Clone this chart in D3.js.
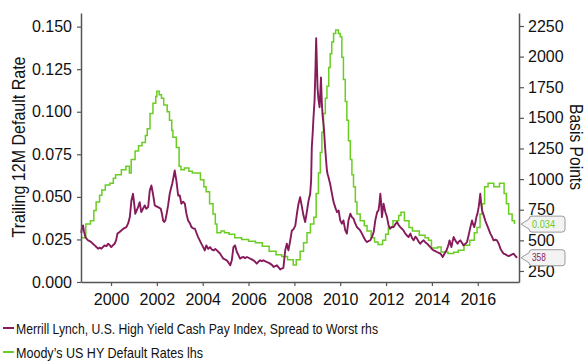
<!DOCTYPE html>
<html>
<head>
<meta charset="utf-8">
<script src="https://cdn.jsdelivr.net/npm/d3@7"></script>
<style>
  html, body { margin: 0; padding: 0; background: #fff; }
  svg { display: block; }
</style>
</head>
<body>
<svg id="chart" width="586" height="362"></svg>
<script>
// Moody's US high-yield trailing 12M default rate (left axis), monthly steps
const defaultYears = [
  1998.70, 1998.90, 1999.10, 1999.25, 1999.35, 1999.50, 1999.60, 1999.75, 1999.95, 2000.10,
  2000.20, 2000.45, 2000.65, 2000.80, 2000.88, 2001.05, 2001.20, 2001.35, 2001.50, 2001.58,
  2001.70, 2001.83, 2001.95, 2002.00, 2002.10, 2002.20, 2002.30, 2002.45, 2002.55, 2002.65,
  2002.70, 2002.85, 2002.97, 2003.05, 2003.20, 2003.40, 2003.55, 2003.70, 2003.90, 2004.05,
  2004.15, 2004.30, 2004.45, 2004.55, 2004.62, 2004.80, 2004.95, 2005.15, 2005.40, 2005.70,
  2006.00, 2006.30, 2006.60, 2006.90, 2007.20, 2007.45, 2007.70, 2007.95, 2008.08, 2008.25,
  2008.40, 2008.55, 2008.70, 2008.85, 2008.95, 2009.05, 2009.13, 2009.20, 2009.27, 2009.35,
  2009.42, 2009.50, 2009.56, 2009.63, 2009.71, 2009.80, 2009.92, 2010.00, 2010.07, 2010.14,
  2010.22, 2010.29, 2010.36, 2010.44, 2010.51, 2010.58, 2010.66, 2010.73, 2010.87, 2011.05,
  2011.17, 2011.35, 2011.50, 2011.65, 2011.85, 2011.98, 2012.10, 2012.30, 2012.55, 2012.65,
  2012.80, 2013.00, 2013.15, 2013.45, 2013.70, 2013.85, 2013.98, 2014.25, 2014.40, 2014.70,
  2014.95, 2015.15, 2015.40, 2015.65, 2015.85, 2015.97, 2016.10, 2016.19, 2016.30, 2016.45,
  2016.70, 2016.95, 2017.08, 2017.15, 2017.25, 2017.35, 2017.50, 2017.60
];
const defaultRate = [
  0.026, 0.034, 0.036, 0.042, 0.047, 0.051, 0.054, 0.057, 0.058, 0.061,
  0.063, 0.066, 0.068, 0.064, 0.072, 0.077, 0.080, 0.082, 0.086, 0.090,
  0.099, 0.105, 0.109, 0.112, 0.110, 0.108, 0.104, 0.100, 0.095, 0.089,
  0.085, 0.079, 0.068, 0.066, 0.067, 0.065, 0.064, 0.064, 0.060, 0.056,
  0.053, 0.046, 0.040, 0.034, 0.029, 0.030, 0.029, 0.028, 0.026, 0.025,
  0.024, 0.023, 0.021, 0.018, 0.016, 0.015, 0.013, 0.010, 0.013, 0.018,
  0.023, 0.029, 0.034, 0.038, 0.052, 0.064, 0.076, 0.088, 0.099, 0.108,
  0.115, 0.126, 0.134, 0.141, 0.146, 0.148, 0.146, 0.144, 0.132, 0.119,
  0.106, 0.095, 0.083, 0.072, 0.063, 0.056, 0.047, 0.040, 0.036, 0.033,
  0.030, 0.026, 0.0235, 0.022, 0.0245, 0.028, 0.032, 0.036, 0.039, 0.041,
  0.036, 0.032, 0.030, 0.0275, 0.026, 0.0245, 0.020, 0.0206, 0.0176, 0.0167,
  0.0175, 0.0186, 0.0216, 0.0245, 0.029, 0.032, 0.040, 0.046, 0.056, 0.058,
  0.056, 0.058, 0.058, 0.052, 0.046, 0.040, 0.036, 0.034
];

// Merrill Lynch US HY Cash Pay Index spread to worst, basis points (right axis)
const spreadYears = [
  1998.70, 1998.73, 1998.78, 1998.82, 1998.88, 1998.94, 1999.00, 1999.07, 1999.14, 1999.22,
  1999.29, 1999.36, 1999.43, 1999.50, 1999.58, 1999.65, 1999.72, 1999.80, 1999.87, 1999.94,
  2000.01, 2000.08, 2000.16, 2000.22, 2000.28, 2000.36, 2000.45, 2000.56, 2000.67, 2000.75,
  2000.82, 2000.89, 2000.96, 2001.01, 2001.06, 2001.12, 2001.18, 2001.25, 2001.32, 2001.40,
  2001.47, 2001.54, 2001.62, 2001.69, 2001.76, 2001.83, 2001.91, 2001.98, 2002.05, 2002.11,
  2002.17, 2002.22, 2002.27, 2002.32, 2002.37, 2002.43, 2002.49, 2002.56, 2002.63, 2002.67,
  2002.71, 2002.78, 2002.85, 2002.93, 2003.00, 2003.07, 2003.15, 2003.22, 2003.29, 2003.36,
  2003.44, 2003.51, 2003.58, 2003.66, 2003.73, 2003.80, 2003.87, 2003.94, 2004.02, 2004.09,
  2004.16, 2004.24, 2004.32, 2004.40, 2004.47, 2004.55, 2004.62, 2004.69, 2004.76, 2004.83,
  2004.90, 2004.97, 2005.05, 2005.12, 2005.20, 2005.27, 2005.34, 2005.41, 2005.49, 2005.56,
  2005.63, 2005.70, 2005.78, 2005.85, 2005.93, 2006.00, 2006.07, 2006.14, 2006.21, 2006.29,
  2006.36, 2006.43, 2006.51, 2006.58, 2006.65, 2006.72, 2006.80, 2006.87, 2006.94, 2007.02,
  2007.09, 2007.16, 2007.24, 2007.31, 2007.38, 2007.45, 2007.52, 2007.60, 2007.67, 2007.74,
  2007.82, 2007.89, 2007.96, 2008.04, 2008.11, 2008.18, 2008.25, 2008.33, 2008.40, 2008.47,
  2008.55, 2008.62, 2008.69, 2008.73, 2008.76, 2008.80, 2008.83, 2008.88, 2008.92, 2008.95,
  2008.98, 2009.01, 2009.05, 2009.10, 2009.13, 2009.16, 2009.20, 2009.23, 2009.27, 2009.30,
  2009.34, 2009.38, 2009.42, 2009.45, 2009.49, 2009.52, 2009.56, 2009.60, 2009.64, 2009.67,
  2009.71, 2009.75, 2009.78, 2009.82, 2009.86, 2009.93, 2010.00, 2010.07, 2010.14, 2010.22,
  2010.29, 2010.36, 2010.44, 2010.51, 2010.58, 2010.65, 2010.73, 2010.80, 2010.87, 2010.95,
  2011.02, 2011.10, 2011.17, 2011.24, 2011.31, 2011.39, 2011.46, 2011.53, 2011.61, 2011.67,
  2011.71, 2011.75, 2011.78, 2011.82, 2011.89, 2011.97, 2012.04, 2012.11, 2012.18, 2012.25,
  2012.33, 2012.40, 2012.48, 2012.55, 2012.62, 2012.69, 2012.76, 2012.84, 2012.91, 2012.98,
  2013.06, 2013.13, 2013.20, 2013.28, 2013.35, 2013.42, 2013.49, 2013.57, 2013.64, 2013.71,
  2013.79, 2013.86, 2013.93, 2014.00, 2014.07, 2014.15, 2014.22, 2014.30, 2014.37, 2014.42,
  2014.47, 2014.53, 2014.59, 2014.64, 2014.69, 2014.73, 2014.77, 2014.81, 2014.85, 2014.90,
  2014.95, 2015.02, 2015.07, 2015.12, 2015.18, 2015.24, 2015.31, 2015.38, 2015.45, 2015.53,
  2015.60, 2015.68, 2015.75, 2015.80, 2015.85, 2015.90, 2015.94, 2015.99, 2016.04, 2016.08,
  2016.11, 2016.15, 2016.19, 2016.26, 2016.33, 2016.41, 2016.48, 2016.55, 2016.62, 2016.69,
  2016.77, 2016.84, 2016.92, 2016.99, 2017.06, 2017.13, 2017.21, 2017.28, 2017.35, 2017.42,
  2017.50, 2017.57, 2017.65, 2017.72
];
const spreadBp = [
  560, 600, 622, 575, 527, 512, 500, 494, 486, 470,
  459, 446, 432, 440, 432, 446, 459, 452, 473, 462,
  445, 460, 473, 500, 555, 566, 581, 598, 608, 640,
  690, 826, 880, 800, 717, 745, 771, 812, 730, 760,
  785, 758, 771, 907, 948, 880, 785, 778, 771, 765,
  758, 720, 663, 650, 663, 720, 785, 880, 934, 962,
  1000, 1070, 989, 866, 866, 799, 815, 799, 717, 663,
  640, 608, 598, 595, 560, 527, 500, 473, 445, 418,
  459, 430, 445, 425, 418, 430, 418, 405, 391, 370,
  351, 345, 337, 320, 296, 337, 445, 459, 405, 380,
  351, 360, 364, 355, 364, 358, 351, 345, 337, 325,
  310, 325, 337, 330, 337, 330, 323, 318, 310, 300,
  283, 290, 296, 280, 262, 270, 275, 418, 473, 418,
  500, 581, 590, 620, 717, 799, 852, 771, 700, 649,
  740, 826, 880, 989, 1260, 1380, 1491, 1640, 1900, 2150,
  1950, 1748, 1650, 1586, 1700, 1830, 1613, 1520, 1450, 1380,
  1260, 1160, 1070, 1040, 1015, 990, 962, 920, 880, 850,
  812, 790, 771, 750, 730, 744, 663, 636, 663, 581,
  555, 663, 717, 690, 677, 640, 608, 595, 581, 555,
  527, 500, 486, 495, 500, 530, 568, 663, 730, 744,
  800, 880, 820, 690, 799, 730, 690, 622, 595, 610,
  608, 630, 649, 625, 608, 595, 581, 555, 540, 527,
  555, 520, 500, 530, 514, 490, 473, 490, 500, 485,
  473, 460, 445, 430, 418, 412, 405, 398, 391, 380,
  364, 385, 405, 420, 445, 470, 500, 470, 445, 490,
  527, 500, 485, 473, 490, 500, 480, 459, 470, 486,
  540, 608, 663, 630, 608, 650, 690, 720, 771, 830,
  880, 800, 744, 704, 660, 622, 590, 555, 530, 500,
  505, 500, 470, 432, 410, 391, 385, 378, 372, 378,
  385, 391, 370, 358
];

const xTicks = [2000, 2002, 2004, 2006, 2008, 2010, 2012, 2014, 2016];
const leftTicks = [0.000, 0.025, 0.050, 0.075, 0.100, 0.125, 0.150];
const rightTicks = [250, 500, 750, 1000, 1250, 1500, 1750, 2000, 2250];

const legendLabels = [
  "Merrill Lynch, U.S. High Yield Cash Pay Index, Spread to Worst rhs",
  "Moody\u2019s US HY Default Rates lhs"
];

const COLOR_SPREAD = "#861a5b";
const COLOR_DEFAULT = "#6acd22";
const AXIS_COLOR = "#555";
const TICK_FONT = "'Liberation Sans', Arial, sans-serif";
const LABEL_FONT = "'Liberation Sans', Arial, sans-serif";

const svg = d3.select("#chart");

const plot = { left: 81, right: 519, top: 13, bottom: 282 };

const x = d3.scaleLinear().domain([1998.69, 2017.8]).range([plot.left, plot.right]);
const yL = d3.scaleLinear().domain([0, 0.158]).range([plot.bottom, plot.top]);
const yR = d3.scaleLinear().domain([160, 2356]).range([plot.bottom, plot.top]);

const defaultData = defaultYears.map((t, i) => ({ t, v: defaultRate[i] }));
const spreadData = spreadYears.map((t, i) => ({ t, v: spreadBp[i] }));

// Lines: default rate under, spread on top
svg.append("path")
  .datum(defaultData)
  .attr("fill", "none")
  .attr("stroke", COLOR_DEFAULT)
  .attr("stroke-width", 1.5)
  .attr("d", d3.line().x(d => x(d.t)).y(d => yL(d.v)).curve(d3.curveStepAfter));

svg.append("path")
  .datum(spreadData)
  .attr("fill", "none")
  .attr("stroke", COLOR_SPREAD)
  .attr("stroke-width", 1.9)
  .attr("stroke-linejoin", "round")
  .attr("d", d3.line().x(d => x(d.t)).y(d => yR(d.v)));

// Axes
function styleAxis(g) {
  g.select(".domain").attr("stroke", AXIS_COLOR).attr("stroke-width", 1.5);
  g.selectAll(".tick line").attr("stroke", AXIS_COLOR).attr("stroke-width", 1.2);
  g.selectAll(".tick text")
    .attr("fill", "#111")
    .style("font-family", TICK_FONT)
    .style("font-size", "16px");
}

svg.append("g")
  .attr("transform", `translate(0,${plot.bottom})`)
  .call(d3.axisBottom(x).tickValues(xTicks).tickFormat(d3.format("d"))
    .tickSize(4).tickPadding(8).tickSizeOuter(0))
  .call(styleAxis);

svg.append("g")
  .attr("transform", `translate(${plot.left},0)`)
  .call(d3.axisLeft(yL).tickValues(leftTicks).tickFormat(d3.format(".3f"))
    .tickSize(4).tickPadding(5).tickSizeOuter(0))
  .call(styleAxis);

svg.append("g")
  .attr("transform", `translate(${plot.right},0)`)
  .call(d3.axisRight(yR).tickValues(rightTicks).tickFormat(d3.format("d"))
    .tickSize(5).tickPadding(4).tickSizeOuter(0))
  .call(styleAxis);

// Condensed text: regular face squeezed to a set width
function condensed(sel, width) {
  return sel.attr("textLength", width).attr("lengthAdjust", "spacingAndGlyphs");
}

// Axis titles
svg.append("text")
  .attr("transform", "translate(25,147) rotate(-90)")
  .attr("text-anchor", "middle")
  .style("font-family", LABEL_FONT)
  .style("font-size", "17.5px")
  .attr("fill", "#111")
  .text("Trailing 12M Default Rate")
  .call(condensed, 181);

svg.append("text")
  .attr("transform", "translate(570,147) rotate(90)")
  .attr("text-anchor", "middle")
  .style("font-family", LABEL_FONT)
  .style("font-size", "17.5px")
  .attr("fill", "#111")
  .text("Basis Points")
  .call(condensed, 86);

// Last-value callouts on the right axis
const callouts = [
  { y: yL(defaultRate[defaultRate.length - 1]), text: d3.format(".3f")(defaultRate[defaultRate.length - 1]), color: COLOR_DEFAULT },
  { y: yR(spreadBp[spreadBp.length - 1]), text: String(spreadBp[spreadBp.length - 1]), color: COLOR_SPREAD }
];
callouts.forEach(c => {
  const x0 = plot.right + 2, bx = x0 + 8, w = 36, h = 16, r = 3;
  const top = c.y - h / 2;
  const p = `M${x0},${c.y} L${bx},${top + 3} L${bx},${top + r} Q${bx},${top} ${bx + r},${top}
    L${bx + w - r},${top} Q${bx + w},${top} ${bx + w},${top + r}
    L${bx + w},${top + h - r} Q${bx + w},${top + h} ${bx + w - r},${top + h}
    L${bx + r},${top + h} Q${bx},${top + h} ${bx},${top + h - r} L${bx},${top + h - 3} Z`;
  svg.append("path").attr("d", p).attr("fill", "#f3f3f3").attr("stroke", "#9a9a9a").attr("stroke-width", 1);
  svg.append("text")
    .attr("x", bx + 3).attr("y", c.y + 3.5)
    .style("font-family", LABEL_FONT).style("font-size", "10px")
    .attr("fill", c.color)
    .text(c.text)
    .call(condensed, c.text.length * 4.6);
});

// Legend
const legendColors = [COLOR_SPREAD, COLOR_DEFAULT];
const legendWidths = [362, 187];
legendLabels.forEach((label, i) => {
  const ly = 328 + i * 24;
  svg.append("line")
    .attr("x1", 3).attr("x2", 14).attr("y1", ly).attr("y2", ly)
    .attr("stroke", legendColors[i]).attr("stroke-width", 2);
  svg.append("text")
    .attr("x", 16).attr("y", ly + 5.5)
    .style("font-family", LABEL_FONT).style("font-size", "15px")
    .attr("fill", "#111")
    .text(label)
    .call(condensed, legendWidths[i]);
});
</script>
</body>
</html>
